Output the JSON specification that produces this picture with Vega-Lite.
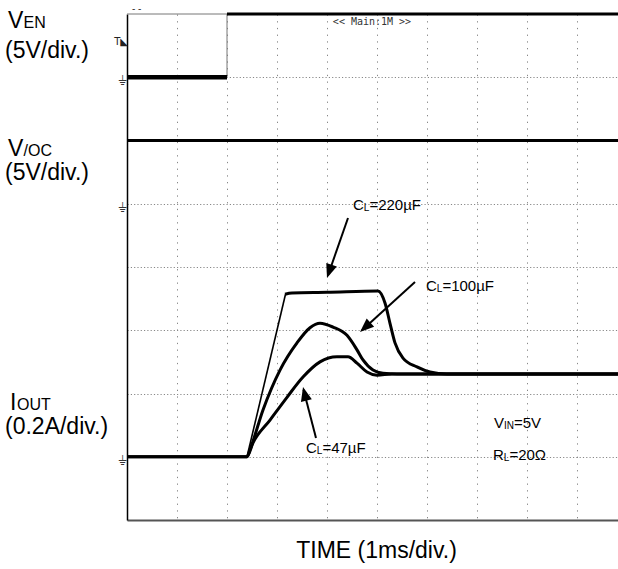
{
  "$schema": "https://vega.github.io/schema/vega-lite/v6.json",
  "width": 491,
  "height": 506,
  "autosize": {"type": "none"},
  "padding": {"left": 127, "top": 14, "right": 0, "bottom": 49},
  "background": "white",
  "config": {"view": {"stroke": null}, "font": "Liberation Sans"},
  "datasets": {
    "traces": [
      {"s": "en_hi", "x": 2.0, "y": 8.0}, {"s": "en_hi", "x": 9.82, "y": 8.0},
      {"s": "oc", "x": 0, "y": 6.0}, {"s": "oc", "x": 9.82, "y": 6.0},
      {"s": "c220", "x": 3.16, "y": 3.57},
      {"s": "c220", "x": 3.3, "y": 3.59}, {"s": "c220", "x": 4.0, "y": 3.6}, {"s": "c220", "x": 5.02, "y": 3.62},
      {"s": "c220", "x": 5.16, "y": 3.43}, {"s": "c220", "x": 5.26, "y": 3.11}, {"s": "c220", "x": 5.36, "y": 2.8},
      {"s": "c220", "x": 5.52, "y": 2.56}, {"s": "c220", "x": 5.8, "y": 2.42}, {"s": "c220", "x": 6.06, "y": 2.34},
      {"s": "c220", "x": 6.4, "y": 2.31}, {"s": "c220", "x": 9.82, "y": 2.31},
      {"s": "c100", "x": 0, "y": 1.0}, {"s": "c100", "x": 2.4, "y": 1.0}, {"s": "c100", "x": 2.46, "y": 1.11},
      {"s": "c100", "x": 2.72, "y": 1.74}, {"s": "c100", "x": 3.06, "y": 2.37}, {"s": "c100", "x": 3.4, "y": 2.8},
      {"s": "c100", "x": 3.66, "y": 3.04}, {"s": "c100", "x": 3.86, "y": 3.11}, {"s": "c100", "x": 4.12, "y": 3.05},
      {"s": "c100", "x": 4.4, "y": 2.92}, {"s": "c100", "x": 4.6, "y": 2.69}, {"s": "c100", "x": 4.72, "y": 2.53},
      {"s": "c100", "x": 4.92, "y": 2.37}, {"s": "c100", "x": 5.12, "y": 2.32}, {"s": "c100", "x": 5.4, "y": 2.31},
      {"s": "c100", "x": 9.82, "y": 2.31},
      {"s": "c47", "x": 0, "y": 1.0}, {"s": "c47", "x": 2.4, "y": 1.0}, {"s": "c47", "x": 2.52, "y": 1.22},
      {"s": "c47", "x": 2.86, "y": 1.58}, {"s": "c47", "x": 3.2, "y": 1.94}, {"s": "c47", "x": 3.52, "y": 2.26},
      {"s": "c47", "x": 3.86, "y": 2.5}, {"s": "c47", "x": 4.2, "y": 2.58}, {"s": "c47", "x": 4.42, "y": 2.58},
      {"s": "c47", "x": 4.6, "y": 2.48}, {"s": "c47", "x": 4.8, "y": 2.34}, {"s": "c47", "x": 5.0, "y": 2.29},
      {"s": "c47", "x": 5.3, "y": 2.31}, {"s": "c47", "x": 9.82, "y": 2.31}
    ],
    "enlow": [
      {"x": 0, "y": 7.0}, {"x": 2.0, "y": 7.0}
    ],
    "thin": [
      {"x": 0, "x2": 2, "y": 8, "y2": 8},
      {"x": 2, "x2": 2, "y": 7, "y2": 8}
    ],
    "rise": [
      {"x": 2.4, "x2": 3.17, "y": 1.0, "y2": 3.57}
    ],
    "arrows": [
      {"x": 4.42, "y": 4.775, "x2": 4.02, "y2": 3.87},
      {"x": 5.76, "y": 3.763, "x2": 4.7, "y2": 3.0},
      {"x": 3.78, "y": 1.296, "x2": 3.53, "y2": 2.06}
    ],
    "big": [
      {"x": -2.38, "y": 7.78, "t": "V"},
      {"x": -2.44, "y": 7.3, "t": "(5V/div.)"},
      {"x": -2.38, "y": 5.75, "t": "V"},
      {"x": -2.44, "y": 5.375, "t": "(5V/div.)"},
      {"x": -2.34, "y": 1.735, "t": "I"},
      {"x": -2.44, "y": 1.36, "t": "(0.2A/div.)"}
    ],
    "bigsub": [
      {"x": -2.07, "y": 7.78, "t": "EN"},
      {"x": -2.07, "y": 5.75, "t": "/OC"},
      {"x": -2.2, "y": 1.735, "t": "OUT"}
    ],
    "ann": [
      {"x": 4.52, "y": 4.9, "t": "C"}, {"x": 4.848, "y": 4.9, "t": "=220µF"},
      {"x": 5.98, "y": 3.62, "t": "C"}, {"x": 6.308, "y": 3.62, "t": "=100µF"},
      {"x": 3.58, "y": 1.06, "t": "C"}, {"x": 3.908, "y": 1.06, "t": "=47µF"},
      {"x": 7.34, "y": 1.455, "t": "V"}, {"x": 7.74, "y": 1.455, "t": "=5V"},
      {"x": 7.32, "y": 0.95, "t": "R"}, {"x": 7.648, "y": 0.95, "t": "=20Ω"}
    ],
    "annsub": [
      {"x": 4.736, "y": 4.9, "t": "L"},
      {"x": 6.196, "y": 3.62, "t": "L"},
      {"x": 3.796, "y": 1.06, "t": "L"},
      {"x": 7.54, "y": 1.455, "t": "IN"},
      {"x": 7.536, "y": 0.95, "t": "L"}
    ],
    "gnd": [
      {"x": -0.1, "y": 7.0, "t": "⏚"},
      {"x": -0.1, "y": 5.0, "t": "⏚"},
      {"x": -0.1, "y": 1.0, "t": "⏚"}
    ]
  },
  "encoding": {
    "x": {"field": "x", "type": "quantitative",
      "scale": {"domain": [0, 9.82], "nice": false, "zero": false},
      "axis": {"title": null, "labels": false, "ticks": false, "domainColor": "#555", "domainWidth": 2,
        "grid": true, "gridColor": "#888", "gridDash": [1.3, 5.4], "gridWidth": 1,
        "values": [1, 2, 3, 4, 5, 6, 7, 8, 9]}},
    "y": {"field": "y", "type": "quantitative",
      "scale": {"domain": [0, 8], "nice": false, "zero": false},
      "axis": {"title": null, "labels": false, "ticks": false, "domainColor": "#000", "domainWidth": 1.5,
        "grid": true, "gridColor": "#888", "gridDash": [1.2, 2.1], "gridWidth": 1,
        "values": [1, 2, 3, 4, 5, 6, 7]}}
  },
  "layer": [
    {"data": {"name": "thin"}, "mark": {"type": "rule", "color": "#777", "strokeWidth": 1},
      "encoding": {"x2": {"field": "x2"}, "y2": {"field": "y2"}}},
    {"data": {"name": "rise"}, "mark": {"type": "rule", "color": "black", "strokeWidth": 1.6},
      "encoding": {"x2": {"field": "x2"}, "y2": {"field": "y2"}}},
    {"data": {"name": "enlow"}, "mark": {"type": "line", "color": "black", "strokeWidth": 4.5},
      "encoding": {}},
    {"data": {"name": "traces"}, "mark": {"type": "line", "color": "black", "strokeWidth": 3, "interpolate": "monotone"},
      "encoding": {"detail": {"field": "s"}}},
    {"data": {"name": "arrows"}, "mark": {"type": "rule", "color": "black", "strokeWidth": 2},
      "encoding": {"x2": {"field": "x2"}, "y2": {"field": "y2"}}},
    {"data": {"values": [{"x": 4.0, "y": 3.826}]}, "mark": {"type": "point", "filled": true, "color": "black", "opacity": 1, "size": 196, "shape": "M0,0L0.8,2L-0.8,2Z", "angle": 199}},
    {"data": {"values": [{"x": 4.66, "y": 2.972}]}, "mark": {"type": "point", "filled": true, "color": "black", "opacity": 1, "size": 196, "shape": "M0,0L0.8,2L-0.8,2Z", "angle": 228}},
    {"data": {"values": [{"x": 3.52, "y": 2.103}]}, "mark": {"type": "point", "filled": true, "color": "black", "opacity": 1, "size": 196, "shape": "M0,0L0.8,2L-0.8,2Z", "angle": 346}},
    {"data": {"name": "big"}, "mark": {"type": "text", "align": "left", "baseline": "alphabetic", "fontSize": 23, "color": "black"},
      "encoding": {"text": {"field": "t"}}},
    {"data": {"name": "bigsub"}, "mark": {"type": "text", "align": "left", "baseline": "alphabetic", "fontSize": 16, "color": "black"},
      "encoding": {"text": {"field": "t"}}},
    {"data": {"values": [{"x": 4.99, "y": -0.6, "t": "TIME (1ms/div.)"}]}, "mark": {"type": "text", "align": "center", "baseline": "alphabetic", "fontSize": 23, "color": "black"},
      "encoding": {"text": {"field": "t"}}},
    {"data": {"name": "ann"}, "mark": {"type": "text", "align": "left", "baseline": "alphabetic", "fontSize": 15, "color": "black"},
      "encoding": {"text": {"field": "t"}}},
    {"data": {"name": "annsub"}, "mark": {"type": "text", "align": "left", "baseline": "alphabetic", "fontSize": 10, "dy": 1, "color": "black"},
      "encoding": {"text": {"field": "t"}}},
    {"data": {"values": [{"x": 4.9, "y": 7.83, "t": "<< Main:1M >>"}]}, "mark": {"type": "text", "align": "center", "baseline": "alphabetic", "fontSize": 10, "font": "DejaVu Sans Mono", "color": "#333"},
      "encoding": {"text": {"field": "t"}}},
    {"data": {"name": "gnd"}, "mark": {"type": "text", "align": "center", "baseline": "top", "fontSize": 13, "dy": -2, "font": "DejaVu Sans", "color": "#333"},
      "encoding": {"text": {"field": "t"}}},
    {"data": {"values": [{"x": 0, "y": 7.51, "t": "T◣"}]}, "mark": {"type": "text", "align": "right", "baseline": "alphabetic", "fontSize": 10, "dx": 1, "font": "DejaVu Sans", "color": "#222"},
      "encoding": {"text": {"field": "t"}}},
    {"data": {"values": [{"x": 0.1, "y": 8.03, "t": "- -"}]}, "mark": {"type": "text", "align": "left", "baseline": "alphabetic", "fontSize": 10, "color": "#333"},
      "encoding": {"text": {"field": "t"}}}
  ]
}
